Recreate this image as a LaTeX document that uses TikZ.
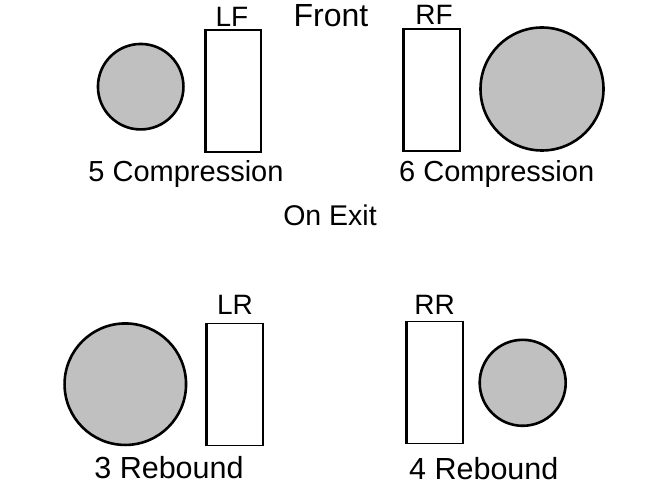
\documentclass[tikz,border=0pt]{standalone}
\usepackage{fontspec}
\setmainfont{Liberation Sans}
\usepackage{xcolor}
\usepackage{tikz}
\usetikzlibrary{positioning}

\definecolor{tyregray}{RGB}{192,192,192}

\begin{document}
\begin{tikzpicture}[
    x=1bp, y=-1bp,
    wheel/.style={circle, draw, line width=2.6bp, fill=tyregray, inner sep=0pt},
    shock/.style={rectangle, draw, line width=1.1bp, fill=white,
        minimum width=55bp, minimum height=122bp, inner sep=0pt},
    corner/.style={anchor=base, inner sep=0pt, font=\fontsize{28bp}{32bp}\selectfont},
    caption/.style={anchor=base, inner sep=0pt, font=\fontsize{29bp}{34bp}\selectfont}
]
\useasboundingbox (0,0) rectangle (660,495);

%-------------------------
% Front
%-------------------------
\node[anchor=base, inner sep=0pt, font=\fontsize{32bp}{36bp}\selectfont]
    (front) at (331,26.7) {Front};

%-------------------------
% Left front
%-------------------------
\node[wheel, minimum size=85.5bp] (LFw) at (140.7,86.7) {};
\node[shock] (LF) at (233.3,91) {};
\draw[line width=3bp] (LF.north west) -- (LF.south west);
\draw[line width=2bp] (LF.north east) -- (LF.south east);
\node[corner] (LFl) at (232,26.7) {LF};
\node[caption] (LFc) at (186,182) {5 Compression};

%-------------------------
% Right front
%-------------------------
\node[shock] (RF) at (431.7,90) {};
\draw[line width=3bp] (RF.north west) -- (RF.south west);
\draw[line width=2bp] (RF.north east) -- (RF.south east);
\node[wheel, minimum size=123bp] (RFw) at (542,89) {};
\node[corner] (RFl) at (434,25) {RF};
\node[caption] (RFc) at (496.7,181.7) {6 Compression};

%-------------------------
% Middle
%-------------------------
\node[caption, font=\fontsize{28.5bp}{33bp}\selectfont] (exit) at (330,226) {On Exit};

%-------------------------
% Left rear
%-------------------------
\node[wheel, minimum size=121.5bp] (LRw) at (125.3,384.2) {};
\node[shock] (LR) at (235,384.3) {};
\draw[line width=3bp] (LR.north west) -- (LR.south west);
\draw[line width=2bp] (LR.north east) -- (LR.south east);
\node[corner] (LRl) at (235,314.3) {LR};
\node[caption, font=\fontsize{30.5bp}{35bp}\selectfont] (LRc) at (169,478.3) {3 Rebound};

%-------------------------
% Right rear
%-------------------------
\node[shock] (RR) at (434.7,382.3) {};
\draw[line width=3bp] (RR.north west) -- (RR.south west);
\draw[line width=2bp] (RR.north east) -- (RR.south east);
\node[wheel, minimum size=86bp] (RRw) at (522.7,382.8) {};
\node[corner] (RRl) at (434.5,314.3) {RR};
\node[caption, font=\fontsize{30.5bp}{35bp}\selectfont] (RRc) at (483.8,479) {4 Rebound};
\end{tikzpicture}
\end{document}
